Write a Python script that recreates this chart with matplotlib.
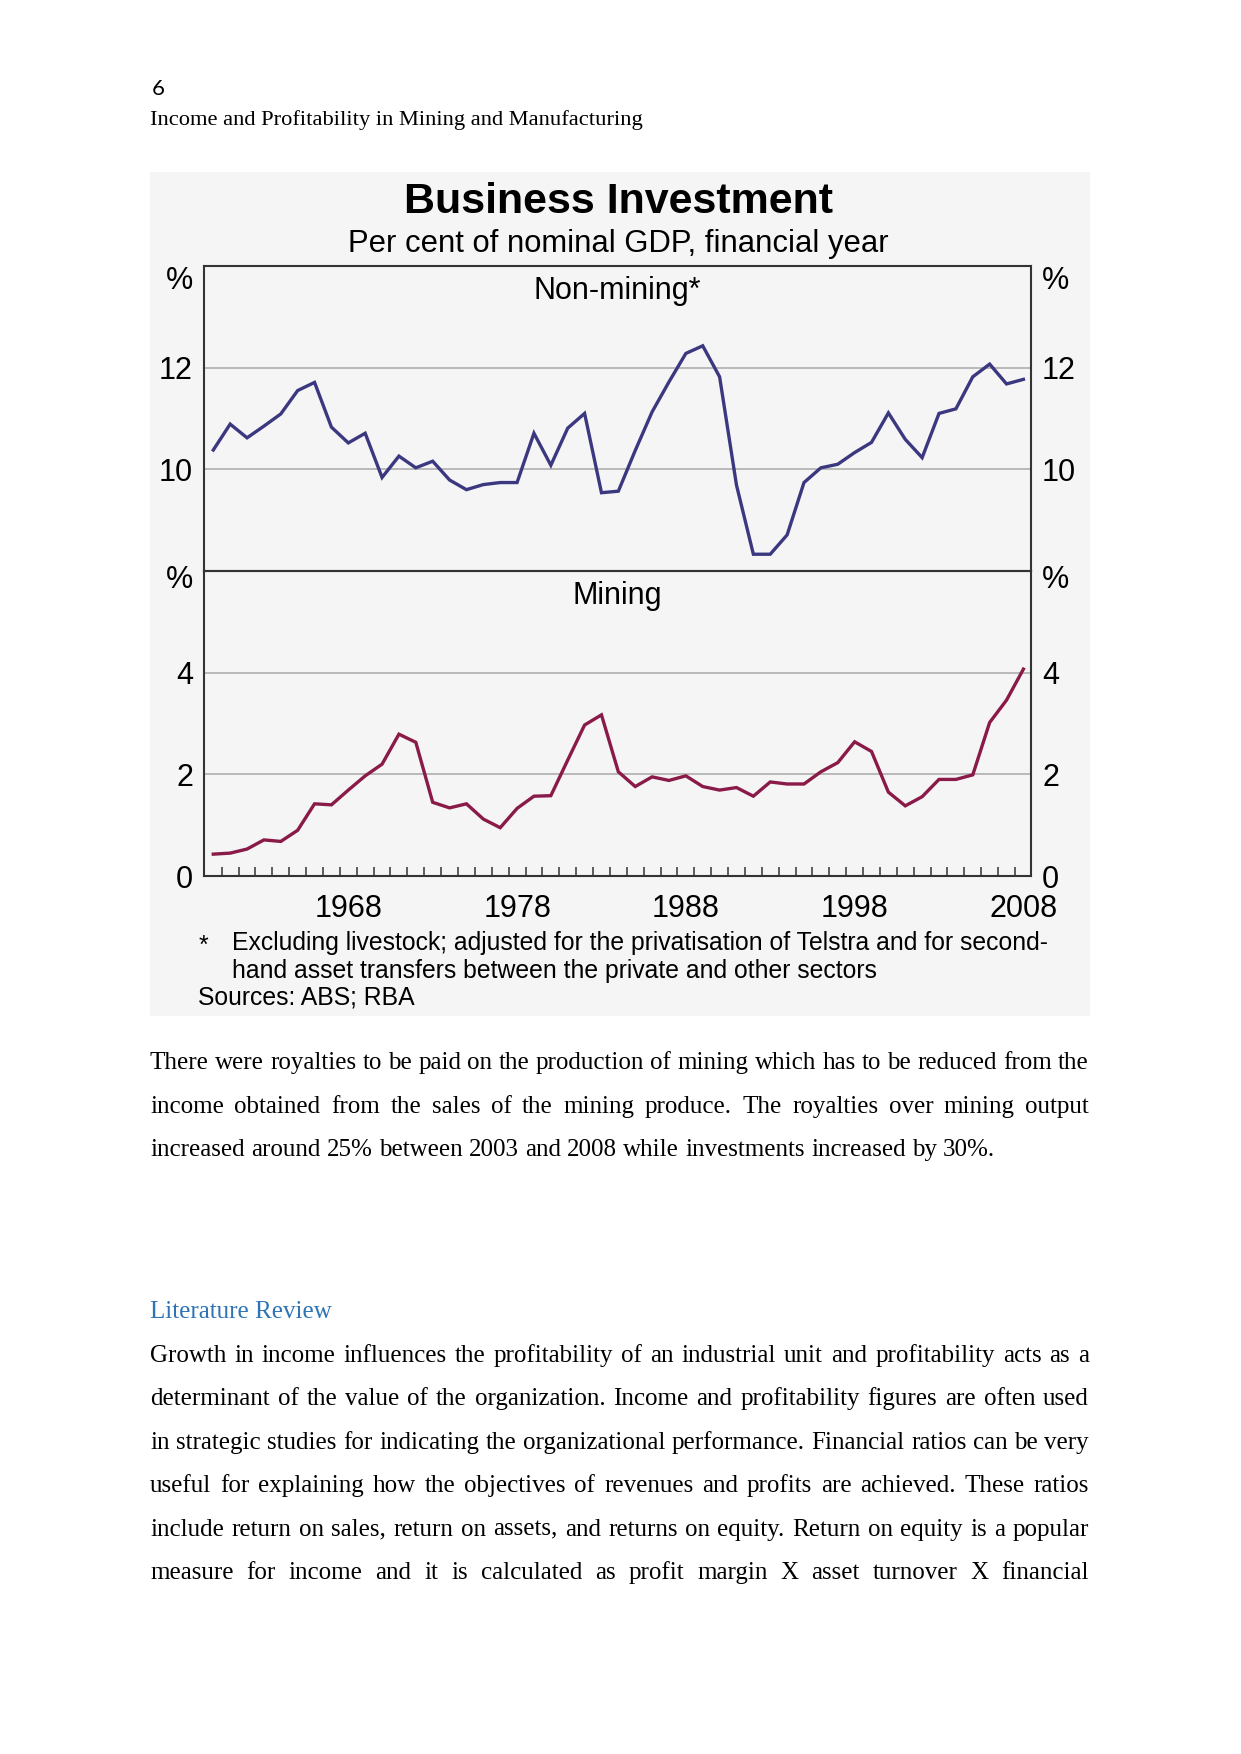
import matplotlib
matplotlib.use('Agg')
import matplotlib.pyplot as plt
import numpy as np
from matplotlib.patches import Rectangle

# %% data (per cent of nominal GDP, financial year)
years = np.arange(1960, 2009)
non_mining = [10.38, 10.89, 10.62, 10.85, 11.09, 11.55, 11.71, 10.83, 10.52, 10.71,
              9.84, 10.26, 10.03, 10.16, 9.79, 9.60, 9.70, 9.74, 9.74, 10.71,
              10.08, 10.81, 11.10, 9.54, 9.57, 10.37, 11.13, 11.72, 12.28, 12.43,
              11.82, 9.69, 8.33, 8.33, 8.71, 9.74, 10.03, 10.10, 10.33, 10.53,
              11.11, 10.59, 10.23, 11.10, 11.19, 11.82, 12.07, 11.68, 11.77]
mining = [0.43, 0.45, 0.53, 0.71, 0.68, 0.90, 1.42, 1.40, 1.69, 1.97,
          2.20, 2.79, 2.63, 1.45, 1.34, 1.42, 1.12, 0.95, 1.33, 1.57,
          1.58, 2.28, 2.97, 3.17, 2.05, 1.76, 1.95, 1.88, 1.97, 1.76,
          1.69, 1.74, 1.57, 1.85, 1.81, 1.81, 2.05, 2.23, 2.64, 2.45,
          1.65, 1.38, 1.56, 1.90, 1.90, 1.99, 3.02, 3.46, 4.07]
year_labels = [1968, 1978, 1988, 1998, 2008]

para1 = ["There were royalties to be paid on the production of mining which has to be reduced from the",
         "income obtained from the sales of the mining produce. The royalties over mining output",
         "increased around 25% between 2003 and 2008 while investments increased by 30%."]
para2 = ["Growth in income influences the profitability of an industrial unit and profitability acts as a",
         "determinant of the value of the organization. Income and profitability figures are often used",
         "in strategic studies for indicating the organizational performance. Financial ratios can be very",
         "useful for explaining how the objectives of revenues and profits are achieved. These ratios",
         "include return on sales, return on assets, and returns on equity. Return on equity is a popular",
         "measure for income and it is calculated as profit margin X asset turnover X financial"]

# %%
W, H = 1241, 1754
fig = plt.figure(figsize=(W / 100, H / 100), dpi=100)
fig.patch.set_facecolor('white')

# page axes in pixel coords (y down)
page = fig.add_axes([0, 0, 1, 1])
page.set_xlim(0, W)
page.set_ylim(H, 0)
page.axis('off')
page.set_zorder(0)
page.add_patch(Rectangle((150, 172), 940, 844, facecolor='#f5f5f5', edgecolor='none'))

sans = 'Liberation Sans'
serif = 'Liberation Serif'

page.text(152, 95, '6', fontsize=16, family='Lato', va='baseline')
page.text(150, 125, 'Income and Profitability in Mining and Manufacturing',
          fontsize=16.2, family=serif, va='baseline')

page.text(618, 202, 'Business Investment', fontsize=31, family=sans,
          weight='bold', ha='center', va='center')
page.text(618, 244, 'Per cent of nominal GDP, financial year', fontsize=22.3,
          family=sans, ha='center', va='center')
for yy in (281, 580):
    page.text(193, yy, '%', fontsize=22, family=sans, ha='right', va='center')
    page.text(1042, yy, '%', fontsize=22, family=sans, ha='left', va='center')

fn = 17.8
page.text(203, 946, '*', fontsize=fn, family=sans, ha='center', va='center')
page.text(232, 943, 'Excluding livestock; adjusted for the privatisation of Telstra and for second-',
          fontsize=fn, family=sans, va='center')
page.text(232, 971, 'hand asset transfers between the private and other sectors',
          fontsize=fn, family=sans, va='center')
page.text(198, 998, 'Sources: ABS; RBA', fontsize=fn, family=sans, va='center')

# %% panels
x0, x1 = 204, 1031
line_blue = '#3b3880'
line_red = '#8a1a47'
panels = [
    (266, 571, non_mining, (8, 14), [10, 12], line_blue, 'Non-mining*'),
    (571, 876, mining, (0, 6), [0, 2, 4], line_red, 'Mining'),
]
axes = []
for top, bot, vals, ylim, yt, col, name in panels:
    ax = fig.add_axes([x0 / W, 1 - bot / H, (x1 - x0) / W, (bot - top) / H])
    ax.set_zorder(1)
    ax.set_facecolor('none')
    ax.plot(years, vals, color=col, lw=2.4, solid_joinstyle='miter', zorder=3)
    ax.set_xlim(1959.45, 2008.45)
    ax.set_ylim(*ylim)
    ax.set_yticks(yt)
    ax.set_yticklabels([str(v) for v in yt], fontsize=22, family=sans)
    ax.tick_params(axis='y', length=0, pad=8, labelright=True, labelleft=True)
    for v in yt:
        if v != 0:
            ax.axhline(v, color='#b4b4b4', lw=1.3, zorder=1)
    for s in ax.spines.values():
        s.set_color('#333333')
        s.set_linewidth(1.5)
    ax.text(0.5, 0.918, name, transform=ax.transAxes, fontsize=22, family=sans,
            ha='center', va='center')
    axes.append(ax)

top_ax, bot_ax = axes
top_ax.set_xticks([])
bot_ax.set_xticks(year_labels)
bot_ax.set_xticklabels([str(y) for y in year_labels], fontsize=22, family=sans)
bot_ax.set_xticks(np.arange(1960.5, 2008), minor=True)
bot_ax.tick_params(axis='x', which='major', length=0, pad=13)
bot_ax.tick_params(axis='x', which='minor', direction='in', length=6.5, width=1.1,
                   color='#333333')

# %% body text, justified like the document
fig.canvas.draw()
r = fig.canvas.get_renderer()
L, R = 150, 1089
body_size = 18


def put_line(line, y, justify=True):
    words = line.split()
    ts = [page.text(0, y, w, fontsize=body_size, family=serif, va='baseline') for w in words]
    widths = [t.get_window_extent(r).width for t in ts]
    if justify:
        gap = (R - L - sum(widths)) / (len(words) - 1)
    else:
        gap = 0.25 * body_size * 100 / 72
    x = L
    for t, w in zip(ts, widths):
        t.set_x(x)
        x += w + gap


for i, line in enumerate(para1):
    put_line(line, 1069 + i * 43.6, justify=(i < len(para1) - 1))

page.text(150, 1318, 'Literature Review', fontsize=18, family=serif,
          color='#2e74b5', va='baseline')

for i, line in enumerate(para2):
    put_line(line, 1362 + i * 43.4, justify=True)

fig.savefig('out.png', dpi=100)
